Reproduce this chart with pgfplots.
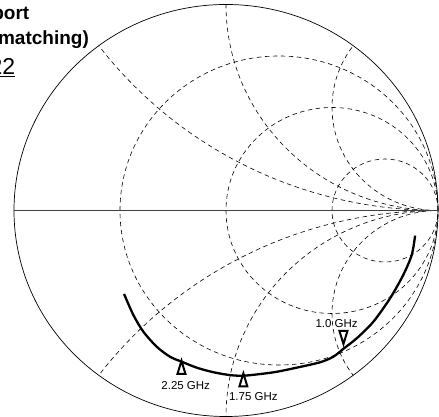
\documentclass[border=0pt]{standalone}
\usepackage{fontspec}
\setmainfont{Liberation Sans}
\usepackage{pgfplots}
\pgfplotsset{compat=1.18}
\tikzset{
  grid line/.style={black, line width=0.6pt, dash pattern=on 4.5pt off 3.5pt},
  lbl/.style={font=\fontsize{11.5}{13}\selectfont, inner sep=0pt},
}

% reflection coefficient of the output port
\begin{document}
\begin{tikzpicture}
\begin{axis}[
    width=439pt, height=417pt, scale only axis,
    xmin=-1.0660, xmax=1.0047,
    ymin=-1.0024, ymax=1.0218,
    hide axis,
]
% resistance circles r = 1/3, 1, 3
\draw[grid line] (axis cs:0.25,0) ellipse [x radius=0.75, y radius=0.75];
\draw[grid line] (axis cs:0.5,0)  ellipse [x radius=0.5,  y radius=0.5];
\draw[grid line] (axis cs:0.75,0) ellipse [x radius=0.25, y radius=0.25];
% reactance arcs x = +-0.5, +-1, +-2
\begin{scope}
  \clip (axis cs:0,0) ellipse [x radius=1, y radius=1];
  \draw[grid line] (axis cs:1,2)    ellipse [x radius=2,   y radius=2];
  \draw[grid line] (axis cs:1,-2)   ellipse [x radius=2,   y radius=2];
  \draw[grid line] (axis cs:1,1)    ellipse [x radius=1,   y radius=1];
  \draw[grid line] (axis cs:1,-1)   ellipse [x radius=1,   y radius=1];
  \draw[grid line] (axis cs:1,0.5)  ellipse [x radius=0.5, y radius=0.5];
  \draw[grid line] (axis cs:1,-0.5) ellipse [x radius=0.5, y radius=0.5];
\end{scope}
\draw[black, line width=0.7pt] (axis cs:0,0) ellipse [x radius=1, y radius=1];
\draw[black!75, line width=0.9pt] (axis cs:-1,0) -- (axis cs:1,0);

% S22 trace
\addplot[black, line width=2.3pt, smooth] coordinates {
  (-0.481,-0.405) (-0.437,-0.507) (-0.390,-0.588) (-0.327,-0.661)
  (-0.264,-0.710) (-0.209,-0.734) (-0.138,-0.763) (-0.060,-0.785)
  (0.019,-0.799) (0.082,-0.802) (0.160,-0.794) (0.239,-0.783)
  (0.333,-0.763) (0.443,-0.737) (0.506,-0.710) (0.553,-0.672)
  (0.617,-0.620) (0.695,-0.540) (0.774,-0.426) (0.836,-0.313)
  (0.876,-0.216) (0.892,-0.122)
};
% frequency markers
\addplot[only marks, mark=triangle*, mark size=4.6pt,
  mark options={yscale=1.9, draw=black, fill=white, line width=2pt}]
  coordinates {(-0.210,-0.772) (0.082,-0.833)};
\addplot[only marks, mark=triangle*, mark size=4.6pt,
  mark options={yscale=-1.9, draw=black, fill=white, line width=2pt}]
  coordinates {(0.554,-0.606)};

\node[lbl] at (axis cs:0.522,-0.548) {1.0 GHz};
\node[lbl] at (axis cs:-0.190,-0.849) {2.25 GHz};
\node[lbl] at (axis cs:0.129,-0.905) {1.75 GHz};

\node[anchor=base east, inner sep=0pt, font=\fontsize{19}{22}\selectfont\bfseries]
  at (axis cs:-0.927,0.927) {Output port};
\node[anchor=base east, inner sep=0pt, font=\fontsize{19}{22}\selectfont\bfseries]
  at (axis cs:-0.646,0.807) {(with matching)};
\node[anchor=base east, inner sep=0pt, font=\fontsize{23}{26}\selectfont]
  at (axis cs:-0.993,0.658) {\underline{S22}};
\end{axis}
\pgfresetboundingbox
\useasboundingbox (current axis.south west) rectangle (current axis.north east);
\end{tikzpicture}
\end{document}
